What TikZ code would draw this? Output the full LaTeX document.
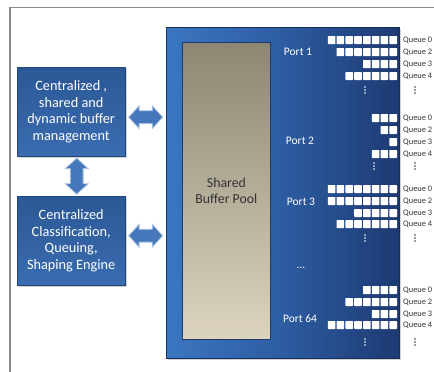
\documentclass[tikz,border=0pt]{standalone}
\usepackage{fontspec}
\setmainfont{Carlito}
\usetikzlibrary{shapes.arrows,shadows,calc}
\definecolor{frameg}{HTML}{8A8A8A}
\definecolor{bigL}{HTML}{3B76C0}
\definecolor{bigM}{HTML}{2D5CA2}
\definecolor{bigR}{HTML}{1D3A72}
\definecolor{poolT}{HTML}{8C8673}
\definecolor{poolB}{HTML}{DCD4BD}
\definecolor{boxT}{HTML}{2B5896}
\definecolor{boxB}{HTML}{3A6CB0}
\definecolor{arrF}{HTML}{4677BB}
\definecolor{arrD}{HTML}{A9C2E3}
\definecolor{txtD}{HTML}{333333}
\newcommand\qrow[2]{\foreach \i in {1,...,#2}{\fill[white,rounded corners=0.6pt] ({397-(\i-1)*8.8-7.6},{#1-4}) rectangle ({397-(\i-1)*8.8},{#1+4});}}
\newcommand\vdts[3]{\foreach \k in {-3,0,3}{\fill[#3] (#1,{#2+\k}) circle (0.9);}}
\begin{document}
\begin{tikzpicture}[x=1pt,y=-1pt,
  bigbox/.style={draw=bigR!80!black,line width=0.6pt,left color=bigL,right color=bigR,middle color=bigM,
    anchor=north west,drop shadow={opacity=0.35,shadow xshift=1.5pt,shadow yshift=-1.5pt}},
  pool/.style={draw=bigR,line width=0.8pt,top color=poolT,bottom color=poolB,anchor=north west,
    font=\fontsize{13.8}{16}\selectfont,text=txtD,align=center},
  lbox/.style={draw=boxT!80!black,line width=0.4pt,top color=boxT,bottom color=boxB,anchor=north west,
    minimum width=108pt,minimum height=89pt,inner sep=0pt,align=center,text=white,
    font=\fontsize{14.3}{16.6}\selectfont,drop shadow={opacity=0.35,shadow xshift=1.5pt,shadow yshift=-1.5pt}},
  dbl/.style={double arrow,draw=arrD,line width=0.8pt,fill=arrF,inner sep=6pt,
    double arrow head extend=5pt,double arrow tip angle=95},
  port/.style={text=white,font=\fontsize{11.5}{13}\selectfont},
  ql/.style={anchor=west,text=txtD,font=\fontsize{8.4}{9}\selectfont,inner sep=0pt}]
\useasboundingbox (0,0) rectangle (434,372);
\fill[white] (0,0) rectangle (434,372);
\draw[frameg,line width=1.4pt] (10,372) -- (10,7.5) -- (434,7.5);
% big blue box
\node[bigbox,minimum width=233pt,minimum height=331pt] (big) at (166,27) {};
\node[pool,minimum width=88pt,minimum height=297pt] (pool) at (182,42) {Shared\\Buffer Pool};
% left boxes
\node[lbox] (b1) at (17,67) {Centralized ,\\shared and\\dynamic buffer\\management};
\node[lbox] (b2) at (17,196) {Centralized\\Classification,\\Queuing,\\Shaping Engine};
% block arrows
\node[dbl,minimum height=34pt] (a1) at ($(b1.east)!0.5!(big.west |- b1.east)+(0,5.5)$) {};
\node[dbl,minimum height=34pt] (a2) at ($(b2.east)!0.5!(big.west |- b2.east)+(0,-5)$) {};
\node[dbl,minimum height=36pt,shape border rotate=90] (a3) at ($(b1.south)!0.5!(b2.north)+(5.5,0)$) {};
% ports
\node[port] (p1) at (298,52) {Port 1};
\node[port] (p2) at (300,141) {Port 2};
\node[port] (p3) at (301,202) {Port 3};
\node[port] (pd) at (301,268) {...};
\node[port] (p64) at (300,319) {Port 64};
% Port 1 queues
\qrow{40}{8}\qrow{52}{7}\qrow{64}{4}\qrow{76}{6}
\node[ql] (l10) at (403,40) {Queue 0};
\node[ql] (l12) at (403,52) {Queue 2};
\node[ql] (l13) at (403,64) {Queue 3};
\node[ql] (l14) at (403,76) {Queue 4};
\vdts{365}{90}{white}\vdts{415}{90}{txtD}
% Port 2 queues
\qrow{118}{3}\qrow{130}{2}\qrow{142}{1}\qrow{154}{3}
\node[ql] (l20) at (403,118) {Queue 0};
\node[ql] (l22) at (403,130) {Queue 2};
\node[ql] (l23) at (403,142) {Queue 3};
\node[ql] (l24) at (403,154) {Queue 4};
\vdts{374}{166}{white}\vdts{415}{166}{txtD}
% Port 3 queues
\qrow{189}{8}\qrow{201}{8}\qrow{213}{5}\qrow{224}{7}
\node[ql] (l30) at (403,189) {Queue 0};
\node[ql] (l32) at (403,201) {Queue 2};
\node[ql] (l33) at (403,213) {Queue 3};
\node[ql] (l34) at (403,224) {Queue 4};
\vdts{365}{238}{white}\vdts{415}{238}{txtD}
% Port 64 queues
\qrow{290}{4}\qrow{302}{6}\qrow{314}{3}\qrow{325}{8}
\node[ql] (l40) at (403,290) {Queue 0};
\node[ql] (l42) at (403,302) {Queue 2};
\node[ql] (l43) at (403,314) {Queue 3};
\node[ql] (l44) at (403,325) {Queue 4};
\vdts{365}{342}{white}\vdts{415}{342}{txtD}
\end{tikzpicture}
\end{document}
